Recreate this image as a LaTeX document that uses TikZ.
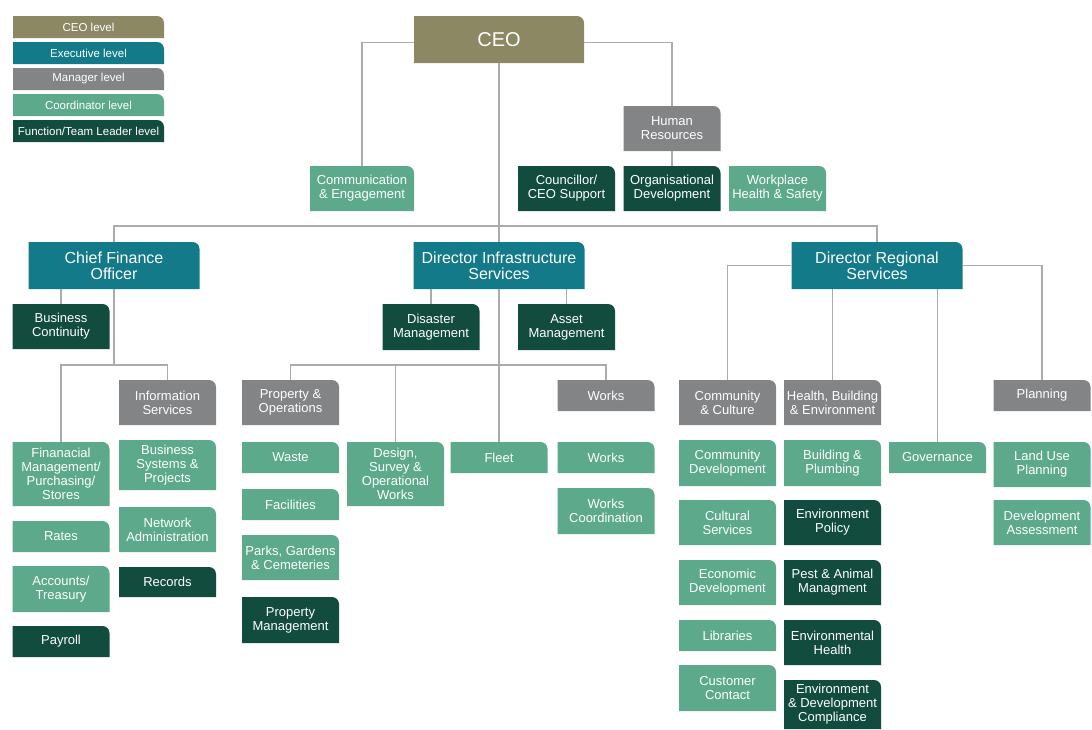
\documentclass[tikz,border=0pt]{standalone}
\usepackage{fontspec}
\setmainfont{Liberation Sans}
\usepackage{xcolor}
\usetikzlibrary{positioning}

\definecolor{ceocol}{HTML}{8C8864}
\definecolor{execcol}{HTML}{137A89}
\definecolor{mgrcol}{HTML}{838486}
\definecolor{coordcol}{HTML}{5CAA8B}
\definecolor{leadcol}{HTML}{114C3F}
\definecolor{linkcol}{HTML}{ABABAB}

\begin{document}
\begin{tikzpicture}[x=1pt, y=1pt,
  orgbox/.style={fill=white, inner sep=1pt, text=white, align=center,
    minimum width=97, minimum height=31,
    font=\fontsize{13}{14}\selectfont,
    path picture={\fill[#1] (path picture bounding box.south west)
      -- (path picture bounding box.north west)
      -- ([xshift=-7pt]path picture bounding box.north east)
      arc[start angle=90, end angle=0, radius=7pt]
      -- (path picture bounding box.south east) -- cycle;}},
  ceobox/.style={orgbox=ceocol, minimum width=170, minimum height=47,
    font=\fontsize{20}{20}\selectfont},
  execbox/.style={orgbox=execcol, minimum width=171, minimum height=47,
    font=\fontsize{16}{16}\selectfont},
  mgrbox/.style={orgbox=mgrcol},
  coordbox/.style={orgbox=coordcol},
  leadbox/.style={orgbox=leadcol},
  keybox/.style={orgbox=#1, minimum width=151, minimum height=22,
    font=\fontsize{11.5}{12}\selectfont},
  link/.style={draw=linkcol, line width=1.6pt}]
  \useasboundingbox (0,0) rectangle (1092,-729);

  % ---------- LEGEND ----------
  \foreach \k/\c/\t [count=\i] in {ceo/ceocol/CEO level, exec/execcol/Executive level,
      mgr/mgrcol/Manager level, coord/coordcol/Coordinator level,
      lead/leadcol/{Function/Team Leader level}}
    \node[keybox=\c] (key\k) at (88.5,{-27-26*(\i-1)}) {\t};

  % ---------- CEO OFFICE ----------
  \node[ceobox] (ceo) at (499,-39.5) {CEO};
  \node[mgrbox, minimum height=45] (hr) at (672,-128.5) {Human\\Resources};
  \node[coordbox, minimum width=104, minimum height=45] (comm) at (362,-188.5) {Communication\\\& Engagement};
  \node[leadbox, minimum height=45] (cceo) at (566.5,-188.5) {Councillor/\\CEO Support};
  \node[leadbox, minimum height=45] (od) at (672,-188.5) {Organisational\\Development};
  \node[coordbox, minimum height=45] (whs) at (777.5,-188.5) {Workplace\\Health \& Safety};
  \draw[link] ([yshift=-3]ceo.west) -| (comm);
  \draw[link] ([yshift=-3]ceo.east) -| (hr);
  \draw[link] (hr) -- (od);

  % ---------- EXECUTIVES ----------
  \coordinate (bus) at (499,-226);
  \node[execbox] (cfo) at (114,-265.5) {Chief Finance\\Officer};
  \node[execbox] (dis) at (499,-265.5) {Director Infrastructure\\Services};
  \node[execbox] (drs) at (877,-265.5) {Director Regional\\Services};
  \draw[link] (ceo) -- (dis);
  \draw[link] (cfo) |- (bus) -| (drs);

  % ---------- FINANCE ----------
  \node[leadbox, minimum height=45] (bc) at (61,-326.5) {Business\\Continuity};
  \node[mgrbox, minimum height=45] (infos) at (167.5,-402.5) {Information\\Services};
  \node[coordbox, minimum height=64] (fin) at (61,-474) {Finanacial\\Management/\\Purchasing/\\Stores};
  \node[coordbox, minimum height=50] (bsp) at (167.5,-465) {Business\\Systems \&\\Projects};
  \node[coordbox] (rates) at (61,-536.5) {Rates};
  \node[coordbox, minimum height=46] (acct) at (61,-589) {Accounts/\\Treasury};
  \node[leadbox] (payroll) at (61,-641.5) {Payroll};
  \node[coordbox, minimum height=45] (netadm) at (167.5,-529.5) {Network\\Administration};
  \node[leadbox, minimum height=30] (records) at (167.5,-582) {Records};
  \coordinate (cfobus) at (114,-365);
  \draw[link] (cfo.south -| bc) -- (bc);
  \draw[link] (cfo) -- (cfobus);
  \draw[link] (fin) |- (cfobus) -| (infos);

  % ---------- INFRASTRUCTURE ----------
  \node[leadbox, minimum height=46] (dm) at (431,-327) {Disaster\\Management};
  \node[leadbox, minimum height=46] (am) at (566.5,-327) {Asset\\Management};
  \node[mgrbox, minimum height=45] (po) at (290.5,-402.5) {Property \&\\Operations};
  \node[mgrbox] (worksm) at (606,-395.5) {Works};
  \node[coordbox] (waste) at (290.5,-457.5) {Waste};
  \node[coordbox] (facil) at (290.5,-504.5) {Facilities};
  \node[coordbox, minimum height=45] (parks) at (290.5,-557.5) {Parks, Gardens\\\& Cemeteries};
  \node[leadbox, minimum height=46] (propm) at (290.5,-620) {Property\\Management};
  \node[coordbox, minimum height=64] (design) at (395.5,-474) {Design,\\Survey \&\\Operational\\Works};
  \node[coordbox] (fleet) at (499,-457.5) {Fleet};
  \node[coordbox] (worksc) at (606,-457.5) {Works};
  \node[coordbox, minimum height=46] (wcoord) at (606,-511) {Works\\Coordination};
  \coordinate (disbus) at (499,-365);
  \draw[link] (dis.south -| dm) -- (dm);
  \draw[link] (dis.south -| am) -- (am);
  \draw[link] (dis) -- (fleet);
  \draw[link] (po) |- (disbus) -| (worksm);
  \draw[link] (design) -- (design |- disbus);

  % ---------- REGIONAL ----------
  \node[mgrbox, minimum height=45] (cc) at (727.5,-402.5) {Community\\\& Culture};
  \node[mgrbox, minimum height=45] (hbe) at (832.5,-402.5) {Health, Building\\\& Environment};
  \node[mgrbox] (plan) at (1042,-395.5) {Planning};
  \node[coordbox, minimum height=46] (cdev) at (727.5,-463) {Community\\Development};
  \node[coordbox, minimum height=46] (bp) at (832.5,-463) {Building \&\\Plumbing};
  \node[coordbox] (gov) at (937.5,-457.5) {Governance};
  \node[coordbox, minimum height=45] (lup) at (1042,-464.5) {Land Use\\Planning};
  \node[coordbox, minimum height=45] (cult) at (727.5,-522.5) {Cultural\\Services};
  \node[leadbox, minimum height=45] (envpol) at (832.5,-522.5) {Environment\\Policy};
  \node[coordbox, minimum height=45] (devass) at (1042,-522.5) {Development\\Assessment};
  \node[coordbox, minimum height=45] (econ) at (727.5,-582.5) {Economic\\Development};
  \node[leadbox, minimum height=45] (pest) at (832.5,-582.5) {Pest \& Animal\\Managment};
  \node[coordbox] (lib) at (727.5,-635.5) {Libraries};
  \node[leadbox, minimum height=45] (envh) at (832.5,-642.5) {Environmental\\Health};
  \node[coordbox, minimum height=46] (cust) at (727.5,-688) {Customer\\Contact};
  \node[leadbox, minimum height=49] (edc) at (832.5,-704.5) {Environment\\\& Development\\Compliance};
  \draw[link] (drs) -| (cc);
  \draw[link] (drs) -| (plan);
  \draw[link] (drs.south -| hbe) -- (hbe);
  \draw[link] (drs.south -| gov) -- (gov);
\end{tikzpicture}
\end{document}
